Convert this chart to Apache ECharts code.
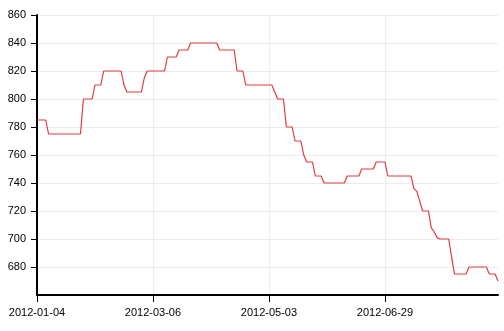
<!DOCTYPE html>
<html>
<head>
<meta charset="utf-8">
<script src="https://cdn.jsdelivr.net/npm/echarts@6/dist/echarts.min.js"></script>
<style>
html,body{margin:0;padding:0;background:#fff;}
#chart{width:504px;height:331px;}
</style>
</head>
<body>
<div id="chart"></div>
<script>
// Trading days (2012), listed per month
const tradingDays = {
  '01': [4,5,6,9,10,11,12,13,16,17,18,19,20,27,30,31],
  '02': [1,2,3,6,7,8,9,10,13,14,15,16,17,20,21,22,23,24,27,28,29],
  '03': [1,2,5,6,7,8,9,12,13,14,15,16,19,20,21,22,23,26,27,28,29,30],
  '04': [2,3,5,6,9,10,11,12,13,16,17,18,19,20,23,24,25,26,27,30],
  '05': [2,3,4,7,8,9,10,11,14,15,16,17,18,21,22,23,24,25,28,29,30,31],
  '06': [1,4,5,6,7,8,11,12,13,14,15,18,19,20,21,25,26,27,28,29],
  '07': [2,3,4,5,6,9,10,11,12,13,16,17,18,19,20,23,24,25,26,27,30,31],
  '08': [1,2,3,6,7,8,9,10,13,14,15,16,17,20,21,22,23]
};
const categories = [];
Object.keys(tradingDays).forEach(function (m) {
  tradingDays[m].forEach(function (d) {
    categories.push('2012-' + m + '-' + (d < 10 ? '0' + d : '' + d));
  });
});

const priceValues = [
  785,785,785,785,775,775,775,775,775,775,
  775,775,775,775,775,775,800,800,800,800,
  810,810,810,820,820,820,820,820,820,820,
  810,805,805,805,805,805,805,815,820,820,
  820,820,820,820,820,830,830,830,830,835,
  835,835,835,840,840,840,840,840,840,840,
  840,840,840,835,835,835,835,835,835,820,
  820,820,810,810,810,810,810,810,810,810,
  810,810,805,800,800,800,780,780,780,770,
  770,770,760,755,755,755,745,745,745,740,
  740,740,740,740,740,740,740,745,745,745,
  745,745,750,750,750,750,750,755,755,755,
  755,745,745,745,745,745,745,745,745,745,
  736,734,727,720,720,720,708,705,701,700,
  700,700,700,687,675,675,675,675,675,680,
  680,680,680,680,680,680,675,675,675,670
];

const yMin = 660, yMax = 860, yStep = 20;
const labelEvery = 40;

const chart = echarts.init(document.getElementById('chart'), null, {renderer: 'canvas'});
chart.setOption({
  animation: false,
  backgroundColor: '#ffffff',
  grid: {left: 37, right: 6, top: 15, bottom: 36, containLabel: false},
  xAxis: {
    type: 'category',
    data: categories,
    boundaryGap: false,
    axisLine: {show: true, lineStyle: {color: '#000', width: 2}},
    axisTick: {show: true, interval: labelEvery - 1, length: 7, lineStyle: {color: '#000', width: 1}},
    axisLabel: {interval: labelEvery - 1, margin: 12, color: '#000', fontSize: 11, fontFamily: 'Liberation Sans, Arial, sans-serif'},
    splitLine: {show: true, interval: labelEvery - 1, lineStyle: {color: '#ececec', width: 1}}
  },
  yAxis: {
    type: 'value',
    min: yMin, max: yMax, interval: yStep,
    axisLine: {show: true, lineStyle: {color: '#000', width: 2}},
    axisTick: {show: true, length: 6, lineStyle: {color: '#000', width: 1}},
    axisLabel: {showMinLabel: false, margin: 11, color: '#000', fontSize: 11, fontFamily: 'Liberation Sans, Arial, sans-serif'},
    splitLine: {show: true, lineStyle: {color: '#ececec', width: 1}}
  },
  series: [{
    type: 'line',
    data: priceValues,
    showSymbol: false,
    symbol: 'none',
    lineStyle: {color: '#e03c41', width: 1.2},
    itemStyle: {color: '#e03c41'}
  }]
});
</script>
</body>
</html>
